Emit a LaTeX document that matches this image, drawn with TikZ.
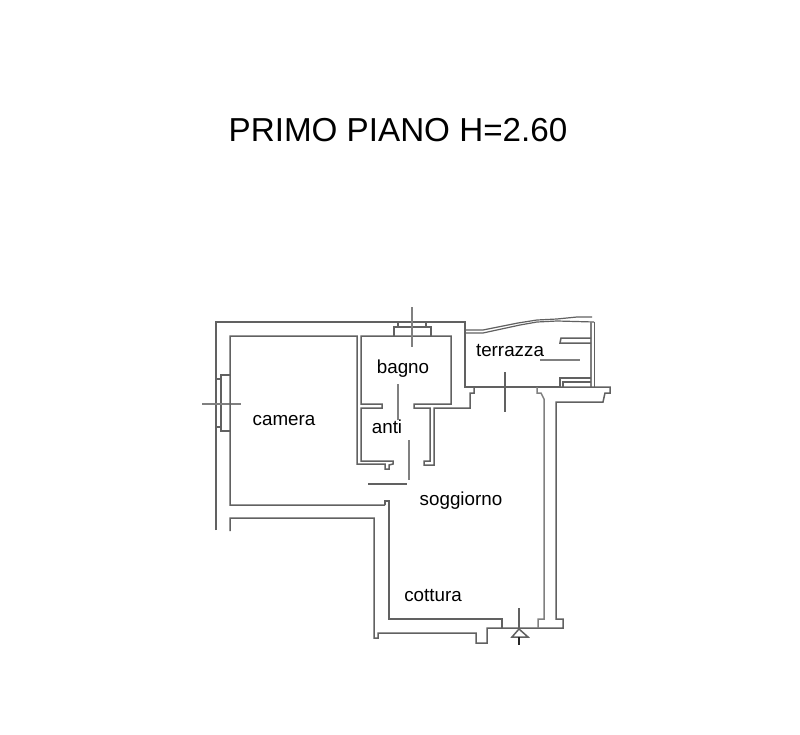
\documentclass[tikz,border=0pt]{standalone}
\usepackage{fontspec}
\setmainfont{Liberation Sans}
\tikzset{
  wall/.style={draw=black!62,line width=1.5pt,line join=miter},
  paleline/.style={draw=black!50,line width=1.5pt},
  thin wall/.style={draw=black!62,line width=1.2pt},
  roomlabel/.style={anchor=base,inner sep=0pt,font=\fontsize{18.8}{20}\selectfont,text=black},
  titlelabel/.style={anchor=base,inner sep=0pt,font=\fontsize{33.2}{36}\selectfont,text=black}
}
\begin{document}
\begin{tikzpicture}[x=1pt,y=-1pt]
\useasboundingbox (0,0) rectangle (800,735);
\fill[white] (0,0) rectangle (800,735);
% outer wall
\draw[wall] (216,530) -- (216,322) -- (465,322) -- (465,387) -- (560,387);
% left window
\draw[wall] (230,375) -- (221,375) -- (221,431) -- (230,431);
\draw[wall] (216,379) -- (221,379) (216,427) -- (221,427);
\draw[paleline] (202,404) -- (241,404);
% camera room and anti
\draw[wall] (385,505) -- (230,505) -- (230,336) -- (357,336) -- (357,464) -- (385,464) -- (385,469) -- (389,469) -- (389,465) -- (393,464) -- (393,461) -- (361,461) -- (361,408) -- (382,408) -- (382,404) -- (361,404) -- (361,336) -- (451,336) -- (451,404) -- (414,404) -- (414,408) -- (430,408) -- (430,461) -- (424,461) -- (424,465) -- (434,465) -- (434,408) -- (470,408) -- (470,393) -- (474,393) -- (474,387);
% top window
\draw[wall] (394,336) -- (394,327) -- (431,327) -- (431,336);
\draw[wall] (398,327) -- (398,322) (426,327) -- (426,322);
\draw[paleline] (412,307) -- (412,347);
% terrace top
\draw[thin wall] (465,330) -- (483,330) -- (518,323) -- (537,320) -- (557,319) -- (577,317) -- (592,317);
\draw[thin wall] (465,333) -- (483,333) -- (520,325) -- (537,322) -- (557,321) -- (594,322);
\draw[paleline] (591,322) -- (591,387);
\draw[wall] (594.5,322) -- (594.5,387);
% terrace shelf
\draw[wall] (591,338) -- (561,338) -- (560,343) -- (591,343);
\draw[paleline] (540,360) -- (580,360);
\draw[wall] (560,387) -- (560,378) -- (591,378);
\draw[wall] (563,387) -- (563,382) -- (591,382);
\draw[wall] (560,387) -- (610,387) -- (610,393) -- (605,393) -- (603,402) -- (556,402) -- (556,619) -- (563,619) -- (563,628) -- (487,628) -- (487,643) -- (476,643) -- (476,633) -- (378,633) -- (378,638) -- (374,638) -- (374,518) -- (230,518) -- (230,531);
% inner wall of soggiorno
\draw[wall] (385,505) -- (385,501) -- (389,501) -- (389,619) -- (502,619) -- (502,628);
\draw[paleline] (537,387) -- (537,393) -- (541,393) -- (544,399) -- (544,619) -- (538,619) -- (538,628);
% door swings and crosses
\draw[paleline] (398,384) -- (398,420);
\draw[paleline] (409,440) -- (409,480);
\draw[wall] (368,484) -- (407,484);
\draw[wall] (505,372) -- (505,412);
% entry marker
\draw[wall] (519,608) -- (519,629);
\draw[wall,fill=white] (519,629) -- (528,637) -- (512,637) -- cycle;
\draw[draw=black!85,line width=1.9pt] (519,637) -- (519,645);
% texts
\node[titlelabel] (title) at (398,142) {PRIMO PIANO H=2.60};
\node[roomlabel] (camera) at (284,425) {camera};
\node[roomlabel] (bagno) at (403,373) {bagno};
\node[roomlabel] (anti) at (387,433) {anti};
\node[roomlabel] (terrazza) at (510,356) {terrazza};
\node[roomlabel] (soggiorno) at (461,505) {soggiorno};
\node[roomlabel] (cottura) at (433,601) {cottura};
\end{tikzpicture}
\end{document}
